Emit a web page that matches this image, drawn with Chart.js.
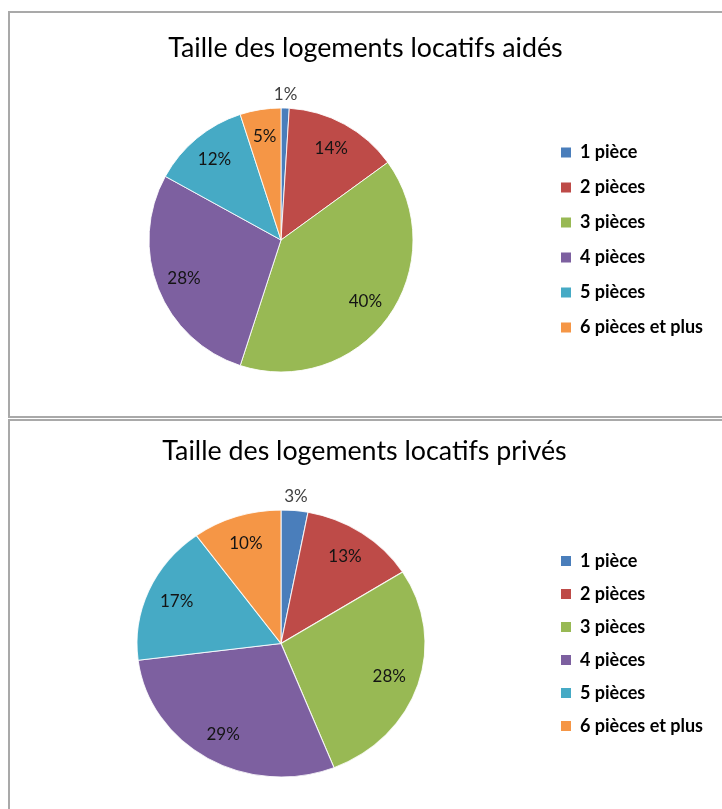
<!DOCTYPE html>
<html><head><meta charset="utf-8">
<script src="https://cdn.jsdelivr.net/npm/chart.js@4.4.0/dist/chart.umd.min.js"></script>
<style>
html,body{margin:0;padding:0;background:#fff;width:722px;height:809px;overflow:hidden;position:relative;}
.panel{position:absolute;left:8px;width:730px;height:403px;border:2px solid #a9a9a9;border-right:none;background:#fff;overflow:hidden;}
#p1{top:11px;}
#p2{top:419px;}
canvas{display:block;}
</style></head><body>
<div class="panel" id="p1"><canvas id="c1" width="712" height="403"></canvas></div>
<div class="panel" id="p2"><canvas id="c2" width="712" height="403"></canvas></div>
<script>
// ---- data ----
const categories = ['1 pièce', '2 pièces', '3 pièces', '4 pièces', '5 pièces', '6 pièces et plus'];
const aidesValues = [1, 14, 40, 28, 12, 5];
const privesValues = [3, 13, 28, 29, 17, 10];
const titleAides = 'Taille des logements locatifs aidés';
const titlePrives = 'Taille des logements locatifs privés';

// ---- styles ----
const colors = ['#4A7EBB', '#BE4B48', '#98B954', '#7D60A0', '#46AAC5', '#F59646'];
const FONT = 'Lato, "Open Sans", sans-serif';
const legendFont = {family: FONT, size: 18, weight: 'bold'};
const titleFont = {family: FONT, size: 26.8, weight: 'normal', lineHeight: 1.2};

function textWidth(text, f) {
  const c = document.createElement('canvas').getContext('2d');
  c.font = f.weight + ' ' + f.size + 'px ' + f.family;
  return c.measureText(text).width;
}

const stretchPlugin = {
  id: 'stretchPie',
  beforeDatasetsDraw(chart, args, opts) {
    const sx = opts.x || 1;
    if (sx === 1) return;
    const a = chart.chartArea, cx = (a.left + a.right) / 2;
    const ctx = chart.ctx;
    ctx.save();
    ctx.translate(cx, 0); ctx.scale(sx, 1); ctx.translate(-cx, 0);
  },
  afterDatasetsDraw(chart, args, opts) {
    if ((opts.x || 1) !== 1) chart.ctx.restore();
  }
};

const pctPlugin = {
  id: 'pctLabels',
  afterDatasetsDraw(chart, args, opts) {
    const ctx = chart.ctx;
    const meta = chart.getDatasetMeta(0);
    const data = chart.data.datasets[0].data;
    const sx = opts.stretch || 1;
    ctx.save();
    ctx.textAlign = 'center';
    ctx.textBaseline = 'middle';
    meta.data.forEach((arc, i) => {
      const p = arc.getProps(['x', 'y', 'startAngle', 'endAngle', 'outerRadius'], true);
      const mid = (p.startAngle + p.endAngle) / 2;
      const small = data[i] < 4;
      const r = small ? p.outerRadius + 14 : p.outerRadius * 0.79;
      const lx = p.x + Math.cos(mid) * r * sx;
      const ly = p.y + Math.sin(mid) * r;
      ctx.font = 'normal 17px ' + FONT;
      ctx.fillStyle = small ? '#404040' : '#141414';
      ctx.fillText(data[i] + '%', lx, ly);
    });
    ctx.restore();
  }
};

function makeChart(id, title, values, cfg) {
  const labelPad = cfg.labelPad, boxW = 10;
  const tw = Math.max(...categories.map(c => textWidth(c, legendFont)));
  const legendW = labelPad + boxW + legendFont.size / 2 + tw + 10;
  const canvasW = 712;
  const legendLeft = cfg.boxX - labelPad;
  const padRight = canvasW - legendLeft - legendW;
  const padLeft = 2 * cfg.cx - legendLeft;
  const titleLH = titleFont.size * titleFont.lineHeight;
  const ptop = cfg.titleY - titleLH / 2;
  const pbot = cfg.areaTop - ptop - titleLH;
  const areaBottom = cfg.areaTop + cfg.areaH;
  return new Chart(document.getElementById(id), {
    type: 'pie',
    data: {
      labels: categories,
      datasets: [{
        data: values,
        backgroundColor: colors,
        borderColor: 'rgba(255,255,255,0.85)',
        borderWidth: 1,
        offset: 0,
        hoverOffset: 0
      }]
    },
    options: {
      responsive: false,
      animation: false,
      events: [],
      layout: {padding: {left: padLeft, right: padRight, top: 0, bottom: 403 - areaBottom}},
      plugins: {
        title: {
          display: true, text: title, color: '#000',
          font: titleFont,
          padding: {top: ptop, bottom: pbot}
        },
        legend: {
          display: true, position: 'right', align: 'center', fullSize: false,
          labels: {
            font: legendFont, color: '#000',
            boxWidth: boxW, boxHeight: boxW, padding: labelPad,
            generateLabels(chart) {
              const items = Chart.overrides.pie.plugins.legend.labels.generateLabels(chart);
              items.forEach(it => { it.lineWidth = 0; it.strokeStyle = 'rgba(0,0,0,0)'; });
              return items;
            }
          }
        },
        tooltip: {enabled: false},
        stretchPie: {x: cfg.stretch || 1},
        pctLabels: {stretch: cfg.stretch || 1}
      }
    },
    plugins: [stretchPlugin, pctPlugin]
  });
}

makeChart('c1', titleAides, aidesValues, {cx: 271, boxX: 551, titleY: 35, areaTop: 94.5, areaH: 265, labelPad: 17});
makeChart('c2', titlePrives, privesValues, {cx: 271, boxX: 551, titleY: 30, areaTop: 88.5, areaH: 268, labelPad: 15, stretch: 1.0787});
</script>
</body></html>
